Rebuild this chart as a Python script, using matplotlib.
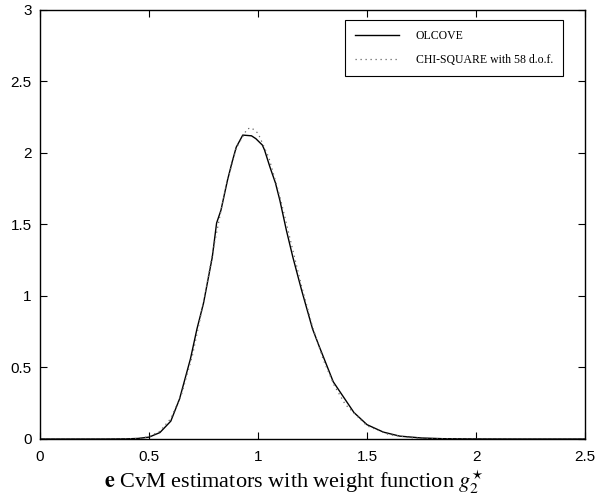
import numpy as np
import matplotlib
matplotlib.use("Agg")
import matplotlib.pyplot as plt

# OLCOVE curve
x_olcove = [0, 0.30, 0.40, 0.45, 0.50, 0.55, 0.60, 0.64, 0.69, 0.72, 0.75, 0.79, 0.81,
            0.83, 0.86, 0.88, 0.90, 0.93, 0.97, 0.99, 1.02, 1.03, 1.055, 1.08, 1.10,
            1.13, 1.16, 1.20, 1.25, 1.28, 1.345, 1.44, 1.50, 1.575, 1.65, 1.75, 1.85,
            2.0, 2.2, 2.5]
y_olcove = [0, 0, 0.001, 0.004, 0.013, 0.045, 0.125, 0.28, 0.56, 0.77, 0.95, 1.27, 1.51,
            1.60, 1.81, 1.93, 2.04, 2.125, 2.12, 2.10, 2.055, 2.02, 1.90, 1.79, 1.67,
            1.46, 1.27, 1.04, 0.77, 0.65, 0.40, 0.185, 0.10, 0.048, 0.020, 0.007, 0.002,
            0.0005, 0, 0]

# chi-square 58 d.o.f. (dotted)
x_chi = [0, 0.30, 0.40, 0.45, 0.50, 0.55, 0.60, 0.65, 0.70, 0.75, 0.80, 0.85, 0.90,
         0.95, 0.97, 1.00, 1.05, 1.10, 1.15, 1.20, 1.25, 1.30, 1.35, 1.40, 1.50,
         1.60, 1.70, 1.80, 2.0, 2.2, 2.5]
y_chi = [0, 0, 0.0006, 0.0035, 0.016, 0.054, 0.143, 0.316, 0.590, 0.956, 1.366, 1.749,
         2.034, 2.168, 2.176, 2.138, 1.966, 1.697, 1.381, 1.067, 0.785, 0.552, 0.373,
         0.242, 0.092, 0.031, 0.009, 0.0025, 0.0001, 0, 0]

plt.rcParams['mathtext.fontset'] = 'stix'

fig = plt.figure(figsize=(5.97, 4.98), dpi=100)
ax = fig.add_axes([0.067, 0.1185, 0.913, 0.8615])

ax.plot(x_olcove, y_olcove, color='black', lw=1.0, label='OLCOVE')
ax.plot(x_chi, y_chi, color='#666666', lw=0.9, linestyle=(0, (1, 3)),
        label='CHI-SQUARE with 58 d.o.f.')

ax.set_xlim(0, 2.5)
ax.set_ylim(0, 3)
ax.set_xticks([0, 0.5, 1, 1.5, 2, 2.5])
ax.set_xticklabels(['0', '0.5', '1', '1.5', '2', '2.5'])
ax.set_yticks([0, 0.5, 1, 1.5, 2, 2.5, 3])
ax.set_yticklabels(['0', '0.5', '1', '1.5', '2', '2.5', '3'])
ax.tick_params(direction='in', length=5, width=0.8, top=True, right=True,
               labelsize=11)
ax.tick_params(axis='x', pad=8)
ax.tick_params(axis='y', pad=6)
for lab in ax.get_xticklabels() + ax.get_yticklabels():
    lab.set_family('Liberation Sans')
for s in ax.spines.values():
    s.set_linewidth(1.0)

ax.set_xlabel(r'$\mathbf{e}$ CvM estimators with weight function $g_2^{\star}$',
              family='Liberation Serif', fontsize=16)
ax.xaxis.set_label_coords(0.465, -0.068)

leg = ax.legend(loc='upper right', bbox_to_anchor=(0.96, 0.977), borderaxespad=0,
                prop={'family': 'Liberation Serif', 'size': 8.5},
                handlelength=3.7, handletextpad=1.45, borderpad=0.85,
                labelspacing=1.0, fancybox=False, framealpha=1, edgecolor='black')
leg.get_frame().set_linewidth(0.8)

fig.savefig('out.png', dpi=100)
